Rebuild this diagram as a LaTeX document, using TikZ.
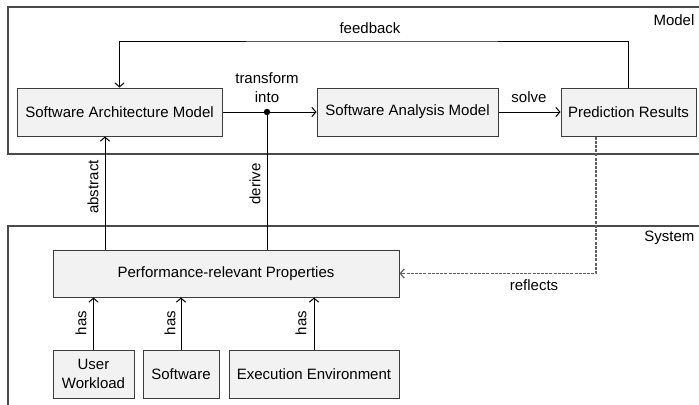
\documentclass[tikz,border=0pt]{standalone}
\usepackage{fontspec}
\setmainfont{Liberation Sans}
\usetikzlibrary{arrows.meta}
\definecolor{boxfill}{HTML}{F2F2F2}
\definecolor{boxline}{HTML}{3C3C3C}
\definecolor{frameline}{HTML}{4A4A4A}
\definecolor{dashline}{HTML}{606060}
\begin{document}
\begin{tikzpicture}[
  x=0.75pt, y=-0.75pt,
  font=\fontsize{11.25}{14.5}\selectfont,
  box/.style={draw=boxline, fill=boxfill, line width=0.75pt, inner sep=0pt,
    align=center, minimum height=36pt},
  arr/.style={line width=0.75pt, -{Straight Barb[length=3pt,width=7pt]}},
  plain/.style={line width=0.75pt},
  dasharr/.style={draw=dashline, line width=0.9pt, dash pattern=on 2.25pt off 0.9pt,
    -{Straight Barb[length=3pt,width=7pt]}},
  frame/.style={draw=frameline, line width=0.9pt},
  lbl/.style={inner sep=1pt, align=center},
  vlbl/.style={inner sep=1pt, rotate=90}
]
\useasboundingbox (0,0) rectangle (699,404);

% frames of the two layers
\draw[frame] (705,7) -- (8,7) -- (8,154) -- (705,154);
\draw[frame] (705,226) -- (8,226) -- (8,410);
\node[lbl, anchor=east] (modellbl) at (696,20) {Model};
\node[lbl, anchor=east] (systemlbl) at (696,238) {System};

% model layer
\node[box, minimum width=153.75pt] (sam) at (119.5,112) {Software Architecture Model};
\node[box, minimum width=135.75pt] (san) at (407.5,112) {Software Analysis Model};
\node[box, minimum width=101.25pt] (pred) at (628.5,112) {Prediction Results};

% system layer
\node[box, minimum width=259.5pt, minimum height=35.25pt] (perf) at (226,273.5) {Performance-relevant Properties};
\node[box, minimum width=60.75pt] (uw) at (93.5,374) {User\\Workload};
\node[box, minimum width=57pt] (sw) at (181,374) {Software};
\node[box, minimum width=127.5pt] (ee) at (314,374) {Execution Environment};

% helper points
\coordinate (tp) at (267,112);
\coordinate (fb) at (370,41);
\coordinate (absx) at (105,200);
\coordinate (rx) at (596,200);

% transformation and solving
\draw[arr] (sam.east) -- (san.west);
\fill (tp) circle (2.4pt);
\node[lbl] (tlbl) at (267,87.5) {transform\\into};
\draw[arr] (san.east) -- (pred.west);
\node[lbl] (slbl) at (529,97) {solve};

% feedback loop
\draw[arr] (pred.north) |- (fb) -| (sam.north);
\node[lbl] (fblbl) at (370,28) {feedback};

% abstraction and derivation
\draw[arr] (perf.north -| absx) -- (sam.south -| absx);
\node[vlbl] (albl) at (93,187) {abstract};
\draw[plain] (perf.north -| tp) -- (tp);
\node[vlbl] (dlbl) at (255,184) {derive};

% reflects
\draw[dasharr] (pred.south -| rx) |- (perf.east);
\node[lbl] (rlbl) at (534,285) {reflects};

% has relations
\draw[arr] (uw.north) -- (uw.north |- perf.south);
\draw[arr] (sw.north) -- (sw.north |- perf.south);
\draw[arr] (ee.north) -- (ee.north |- perf.south);
\node[vlbl] (h1) at (81,323) {has};
\node[vlbl] (h2) at (170,323) {has};
\node[vlbl] (h3) at (301,323) {has};
\end{tikzpicture}
\end{document}
